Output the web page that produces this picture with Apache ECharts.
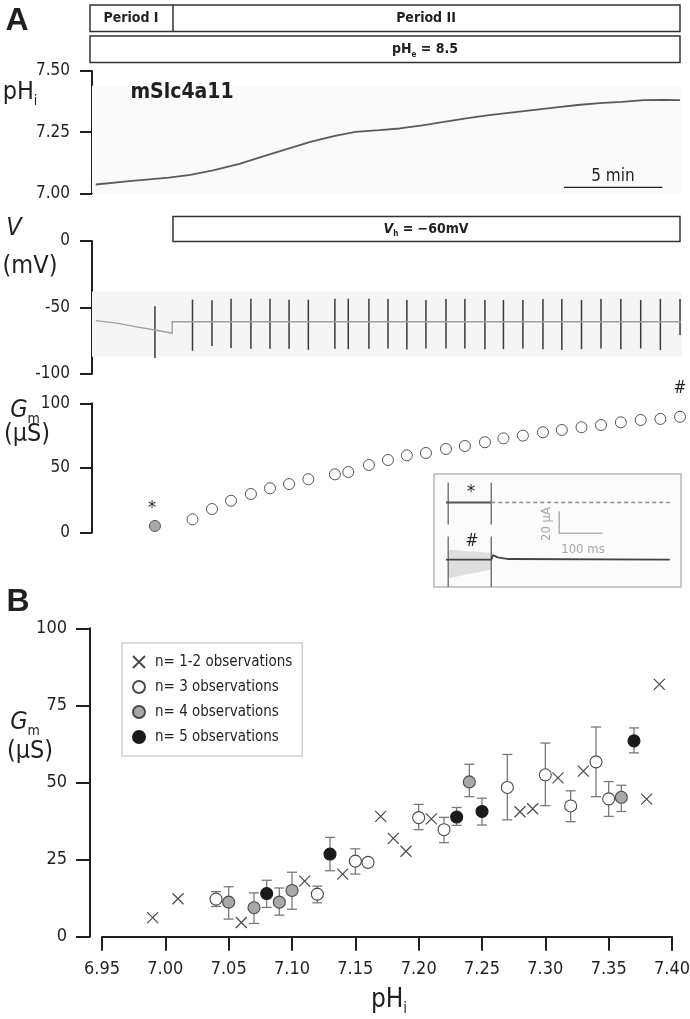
<!DOCTYPE html>
<html>
<head>
<meta charset="UTF-8">
<title>mSlc4a11 Gm vs pHi</title>
<script src="https://cdn.jsdelivr.net/npm/echarts@6/dist/echarts.min.js"></script>
<style>html,body{margin:0;padding:0;background:#fff;} #main{width:690px;height:1019px;}</style>
</head>
<body>
<div id="main"></div>
<script type="text/javascript">
// ---- panel A : pHi trace (time in min) ----
var phT = [0.19, 1.9, 3.9, 5.0, 6.15, 7.5, 8.9, 10.07, 11.1, 12.35, 13.4, 14.6, 15.65, 16.8, 17.9, 19.1, 20.2, 21.3, 22.4, 23.6, 24.7, 25.8, 26.95, 28.06, 29.1, 29.9];
var phV = [7.036, 7.05, 7.064, 7.075, 7.094, 7.12, 7.156, 7.185, 7.21, 7.235, 7.251, 7.258, 7.265, 7.278, 7.292, 7.307, 7.32, 7.33, 7.34, 7.351, 7.361, 7.369, 7.374, 7.381, 7.382, 7.381];

// membrane potential: free running, then clamped at -60 mV
var vT = [0.19, 1.34, 2.19, 3.2, 4.08, 4.08, 29.95];
var vV = [-59.9, -61.9, -64.4, -66.9, -69.4, -60.7, -60.7];

// times of the voltage-step protocols and the spike extents
var stepT = [3.2, 5.11, 6.10, 7.07, 8.08, 9.05, 10.02, 11.0, 12.35, 13.03, 14.08, 15.05, 16.01, 16.98, 18.0, 18.96, 19.98, 20.92, 21.91, 22.93, 23.89, 24.89, 25.88, 26.89, 27.9, 28.9, 29.9];
var stepTop = [-49, -44.1, -44.6, -43.4, -43.4, -43.4, -44.1, -44.1, -43.4, -43.4, -43.4, -43.6, -44.3, -44.3, -43.6, -43.6, -44.3, -44.3, -44.3, -43.6, -43.6, -44.3, -43.6, -43.6, -44.3, -43.6, -43.6];
var stepBot = [-88, -82.5, -79, -80.5, -81, -81, -81, -81.8, -81, -81.3, -81, -80.8, -81.5, -80.8, -80.8, -80.8, -81.3, -81.3, -80.8, -81.3, -82, -81.3, -80.8, -81.3, -80.8, -82, -70.7];
// Gm (uS) at each step, first one unclamped (grey)
var gmA = [5.2, 10.3, 18.3, 24.7, 29.9, 34.3, 37.6, 41.3, 45.1, 46.9, 52.3, 56.2, 59.8, 61.6, 64.7, 67.0, 69.9, 72.9, 75.0, 77.6, 79.4, 81.5, 83.2, 85.3, 87.1, 87.9, 89.6];

// inset current traces (ms, uA)
var topT = [-5, 100], topI = [24, 24];
var dashT = [100, 515], dashI = [24, 24];
var botT = [-5, 0, 100, 104, 115, 140, 515];
var botI = [-28, -28, -28, -24, -26, -27.5, -28];
var bandT = [0, 100], bandHi = [-19, -22], bandLo = [-45, -37];
var trT = [0, 100, 0, 100], trHi = [42, 42, -7, -7], trLo = [4, 4, -53, -53];
var sbT = [258, 258, 358], sbI = [16, -4, -4];

// ---- panel B : Gm vs pHi ----
var x12 = [6.99, 7.01, 7.06, 7.11, 7.14, 7.17, 7.18, 7.19, 7.21, 7.28, 7.29, 7.31, 7.33, 7.38, 7.39];
var y12 = [6.2, 12.3, 4.6, 18.0, 20.3, 39.0, 31.9, 27.7, 38.2, 40.5, 41.5, 51.5, 53.7, 44.6, 81.8];

var x3 = [7.04, 7.12, 7.15, 7.16, 7.20, 7.22, 7.27, 7.30, 7.32, 7.34, 7.35];
var y3 = [12.2, 13.8, 24.5, 24.1, 38.6, 34.7, 48.4, 52.5, 42.4, 56.7, 44.7];
var lo3 = [9.8, 11.0, 20.3, 24.1, 34.7, 30.5, 37.9, 42.5, 37.3, 45.4, 39.0];
var hi3 = [14.6, 16.4, 28.5, 24.1, 42.9, 38.7, 59.1, 62.8, 47.3, 68.0, 50.3];

var x4 = [7.05, 7.07, 7.09, 7.10, 7.24, 7.36];
var y4 = [11.2, 9.4, 11.2, 15.0, 50.2, 45.2];
var lo4 = [5.7, 4.3, 7.0, 8.9, 45.4, 40.6];
var hi4 = [16.2, 14.2, 15.8, 20.9, 55.9, 49.1];

var x5 = [7.08, 7.13, 7.23, 7.25, 7.37];
var y5 = [14.0, 26.8, 38.8, 40.6, 63.5];
var lo5 = [9.5, 21.4, 36.1, 36.2, 59.6];
var hi5 = [18.3, 32.2, 41.9, 44.9, 67.7];

var FONT = "'Liberation Sans Narrow','Arial Narrow','DejaVu Sans Condensed',sans-serif";
var INK = '#231f20';

function zip(a, b) {
    var out = [];
    for (var i = 0; i < a.length; i++) out.push([a[i], b[i]]);
    return out;
}
function zip3(a, b, c) {
    var out = [];
    for (var i = 0; i < a.length; i++) out.push([a[i], b[i], c[i]]);
    return out;
}

// vertical segment from value(1) to value(2)
function segItem(color, width) {
    return function (params, api) {
        var a = api.coord([api.value(0), api.value(1)]);
        var b = api.coord([api.value(0), api.value(2)]);
        return {type: 'line', shape: {x1: a[0], y1: a[1], x2: b[0], y2: b[1]},
            style: {stroke: color, lineWidth: width}};
    };
}
function errItem(params, api) {
    var x = api.value(0);
    var lo = api.coord([x, api.value(1)]);
    var hi = api.coord([x, api.value(2)]);
    var w = 5, st = {stroke: '#7a7a7a', lineWidth: 1.3};
    return {type: 'group', children: [
        {type: 'line', shape: {x1: lo[0], y1: lo[1], x2: hi[0], y2: hi[1]}, style: st},
        {type: 'line', shape: {x1: hi[0] - w, y1: hi[1], x2: hi[0] + w, y2: hi[1]}, style: st},
        {type: 'line', shape: {x1: lo[0] - w, y1: lo[1], x2: lo[0] + w, y2: lo[1]}, style: st}
    ]};
}
function errSeries(x, lo, hi) {
    return {type: 'custom', xAxisIndex: 4, yAxisIndex: 4, z: 2, renderItem: errItem,
        encode: {x: 0, y: [1, 2]}, data: zip3(x, lo, hi), silent: true};
}

function txt(x, y, text, size, extra) {
    var st = {text: text, x: x, y: y, fontSize: size, fontFamily: FONT, fill: INK,
        align: 'center', verticalAlign: 'middle'};
    for (var k in (extra || {})) st[k] = extra[k];
    return {type: 'text', z: 100, style: st};
}
// text with a subscript: main, sub, rest
function subTxt(x, y, main, sub, rest, size, italic, bold) {
    var w = bold ? 'bold' : 'normal';
    var rich = {
        m: {fontSize: size, fontFamily: FONT, fontStyle: italic ? 'italic' : 'normal', fontWeight: w, fill: INK, lineHeight: size * 1.3},
        s: {fontSize: Math.round(size * 0.58), fontFamily: FONT, fontWeight: w, fill: INK, verticalAlign: 'bottom', lineHeight: size * 0.55},
        r: {fontSize: size, fontFamily: FONT, fontWeight: w, fill: INK, lineHeight: size * 1.3}
    };
    var t = '{m|' + main + '}{s|' + sub + '}' + (rest ? '{r|' + rest + '}' : '');
    return {type: 'text', z: 100, style: {text: t, rich: rich, x: x, y: y, align: 'center', verticalAlign: 'middle'}};
}
function box(x, y, w, h) {
    return {type: 'rect', z: 90, shape: {x: x, y: y, width: w, height: h},
        style: {fill: 'none', stroke: '#333', lineWidth: 1.5}};
}

var axisLine = {show: true, lineStyle: {color: INK, width: 2}};
var axisTick = {show: true, length: 12, lineStyle: {color: INK, width: 2}};
function yAx(grid, min, max, step, fmt, extra) {
    var a = {type: 'value', gridIndex: grid, min: min, max: max, interval: step,
        axisLine: axisLine, axisTick: axisTick,
        axisLabel: {fontSize: 17, fontFamily: FONT, color: INK, margin: 22, formatter: fmt},
        splitLine: {show: false}};
    for (var k in (extra || {})) a[k] = extra[k];
    return a;
}
function hidX(grid, min, max) {
    return {type: 'value', gridIndex: grid, min: min, max: max, show: false};
}

var chart = echarts.init(document.getElementById('main'));
var option = {
    backgroundColor: '#fff',
    animation: false,
    grid: [
        {left: 92, width: 590, top: 71, height: 122.3, outerBoundsMode: 'none'},
        {left: 92, width: 590, top: 241, height: 133, outerBoundsMode: 'none'},
        {left: 92, width: 590, top: 403.3, height: 129.4, outerBoundsMode: 'none'},
        {left: 434, top: 474, width: 247, height: 113, show: true, borderColor: '#b8b8b8', borderWidth: 1.5,
            backgroundColor: '#fbfbfb', z: 5, outerBoundsMode: 'none'},
        {left: 102, right: 18, top: 628.3, height: 308.4, outerBoundsMode: 'none'}
    ],
    xAxis: [
        hidX(0, 0, 30), hidX(1, 0, 30), hidX(2, 0, 30), hidX(3, -33, 541),
        {type: 'value', gridIndex: 4, min: 6.95, max: 7.40, interval: 0.05,
            axisLine: axisLine,
            axisTick: {show: true, length: 14, lineStyle: {color: INK, width: 2}},
            axisLabel: {fontSize: 18, fontFamily: FONT, color: INK, margin: 24,
                formatter: function (v) { return v.toFixed(2); }},
            splitLine: {show: false}}
    ],
    yAxis: [
        yAx(0, 7.0, 7.5, 0.25, function (v) { return v.toFixed(2); }),
        yAx(1, -100, 0, 50),
        yAx(2, 0, 100, 50),
        {type: 'value', gridIndex: 3, min: -53, max: 50, show: false},
        yAx(4, 0, 100, 25, null, {offset: 12,
            axisTick: {show: true, length: 14, lineStyle: {color: INK, width: 2}},
            axisLabel: {fontSize: 18, fontFamily: FONT, color: INK, margin: 23}})
    ],
    legend: {
        orient: 'vertical', left: 122, top: 643,
        padding: [11, 10, 11, 10], itemGap: 9, itemWidth: 22, itemHeight: 12,
        borderColor: '#cfcfcf', borderWidth: 1.5,
        textStyle: {fontSize: 15, fontFamily: FONT, color: INK, lineHeight: 16},
        data: ['n= 1-2 observations', 'n= 3 observations', 'n= 4 observations', 'n= 5 observations']
    },
    series: [
        // pHi trace
        {type: 'line', xAxisIndex: 0, yAxisIndex: 0, data: zip(phT, phV), showSymbol: false,
            lineStyle: {color: '#5a5a5a', width: 1.8}, silent: true,
            markArea: {silent: true, itemStyle: {color: '#fafafa'},
                data: [[{coord: [0, 7.44]}, {coord: [30, 7.0]}]]}},
        // 5 min scale bar
        {type: 'line', xAxisIndex: 0, yAxisIndex: 0, data: [[24.0, 7.024], [29.0, 7.024]], showSymbol: false,
            lineStyle: {color: INK, width: 1.3}, silent: true},
        // membrane potential
        {type: 'line', xAxisIndex: 1, yAxisIndex: 1, data: zip(vT, vV), showSymbol: false,
            lineStyle: {color: '#a0a0a0', width: 1.4}, silent: true,
            markArea: {silent: true, itemStyle: {color: '#f5f5f5'},
                data: [[{coord: [0, -38]}, {coord: [30, -87]}]]}},
        {type: 'custom', xAxisIndex: 1, yAxisIndex: 1, renderItem: segItem('#3a3a3a', 1.5),
            encode: {x: 0, y: [1, 2]}, data: zip3(stepT, stepTop, stepBot), silent: true},
        // Gm during the run
        {type: 'scatter', xAxisIndex: 2, yAxisIndex: 2, data: zip(stepT.slice(0, 1), gmA.slice(0, 1)),
            symbol: 'circle', symbolSize: 11, silent: true,
            itemStyle: {color: '#a9a9a9', borderColor: '#555', borderWidth: 1, opacity: 1}},
        {type: 'scatter', xAxisIndex: 2, yAxisIndex: 2, data: zip(stepT.slice(1), gmA.slice(1)),
            symbol: 'circle', symbolSize: 11, silent: true,
            itemStyle: {color: '#fff', borderColor: '#555', borderWidth: 1, opacity: 1}},
        // inset traces
        {type: 'custom', xAxisIndex: 3, yAxisIndex: 3, z: 6, silent: true, data: [[0, 0]],
            renderItem: function (params, api) {
                var pts = [], i;
                for (i = 0; i < bandT.length; i++) pts.push(api.coord([bandT[i], bandHi[i]]));
                for (i = bandT.length - 1; i >= 0; i--) pts.push(api.coord([bandT[i], bandLo[i]]));
                return {type: 'polygon', shape: {points: pts}, style: {fill: '#dedede'}};
            }},
        {type: 'line', xAxisIndex: 3, yAxisIndex: 3, z: 7, data: zip(topT, topI), showSymbol: false,
            lineStyle: {color: '#555', width: 1.8}, silent: true},
        {type: 'line', xAxisIndex: 3, yAxisIndex: 3, z: 7, data: zip(dashT, dashI), showSymbol: false,
            lineStyle: {color: '#8a8a8a', width: 1.3, type: [4, 3]}, silent: true},
        {type: 'line', xAxisIndex: 3, yAxisIndex: 3, z: 7, data: zip(botT, botI), showSymbol: false,
            lineStyle: {color: '#444', width: 1.8}, silent: true},
        {type: 'custom', xAxisIndex: 3, yAxisIndex: 3, z: 7, renderItem: segItem('#666', 1.3),
            encode: {x: 0, y: [1, 2]}, data: zip3(trT, trHi, trLo), silent: true},
        {type: 'line', xAxisIndex: 3, yAxisIndex: 3, z: 7, data: zip(sbT, sbI), showSymbol: false,
            lineStyle: {color: '#b5b5b5', width: 1.6}, silent: true},
        // panel B error bars
        errSeries(x3, lo3, hi3),
        errSeries(x4, lo4, hi4),
        errSeries(x5, lo5, hi5),
        // panel B points
        {name: 'n= 1-2 observations', type: 'scatter', xAxisIndex: 4, yAxisIndex: 4, z: 3,
            data: zip(x12, y12), symbol: 'path://M0,0L10,10M10,0L0,10', symbolSize: 11,
            itemStyle: {color: 'rgba(0,0,0,0)', borderColor: '#4a4a4a', borderWidth: 1.2, opacity: 1}},
        {name: 'n= 3 observations', type: 'scatter', xAxisIndex: 4, yAxisIndex: 4, z: 3,
            data: zip(x3, y3), symbol: 'circle', symbolSize: 12,
            itemStyle: {color: '#fff', borderColor: '#4a4a4a', borderWidth: 1.1, opacity: 1}},
        {name: 'n= 4 observations', type: 'scatter', xAxisIndex: 4, yAxisIndex: 4, z: 3,
            data: zip(x4, y4), symbol: 'circle', symbolSize: 12,
            itemStyle: {color: '#a8a8a8', borderColor: '#4a4a4a', borderWidth: 1.1, opacity: 1}},
        {name: 'n= 5 observations', type: 'scatter', xAxisIndex: 4, yAxisIndex: 4, z: 3,
            data: zip(x5, y5), symbol: 'circle', symbolSize: 12,
            itemStyle: {color: '#1a1a1a', borderColor: '#1a1a1a', borderWidth: 1.1, opacity: 1}}
    ],
    graphic: [
        txt(17, 21, 'A', 32, {fontWeight: 'bold', fontFamily: "'Liberation Sans','DejaVu Sans',sans-serif"}),
        txt(18, 602, 'B', 32, {fontWeight: 'bold', fontFamily: "'Liberation Sans','DejaVu Sans',sans-serif"}),
        // protocol bars
        box(90, 5, 590, 26.5),
        {type: 'line', z: 90, shape: {x1: 173, y1: 5, x2: 173, y2: 31.5}, style: {stroke: '#333', lineWidth: 1.5}},
        txt(131, 18.5, 'Period I', 14, {fontWeight: 'bold'}),
        txt(426, 18.5, 'Period II', 14, {fontWeight: 'bold'}),
        box(90, 36, 590, 26.5),
        subTxt(425, 49.5, 'pH', 'e', ' = 8.5', 14, false, true),
        box(173, 216.5, 507, 25),
        {type: 'text', z: 100, style: {
            text: '{v|V}{s|h}{r| = \u221260mV}', x: 426, y: 229, align: 'center', verticalAlign: 'middle',
            rich: {
                v: {fontSize: 14, fontFamily: FONT, fontStyle: 'italic', fontWeight: 'bold', fill: INK, lineHeight: 18},
                s: {fontSize: 8, fontFamily: FONT, fontWeight: 'bold', fill: INK, verticalAlign: 'bottom', lineHeight: 8},
                r: {fontSize: 14, fontFamily: FONT, fontWeight: 'bold', fill: INK, lineHeight: 18}
            }}},
        txt(182, 93, 'mSlc4a11', 21, {fontWeight: 'bold'}),
        txt(613, 177, '5 min', 17),
        // axis titles
        subTxt(20, 92, 'pH', 'i', '', 25, false, false),
        txt(14, 228, 'V', 25, {fontStyle: 'italic'}),
        txt(30, 266, '(mV)', 25),
        subTxt(25, 410, 'G', 'm', '', 25, true, false),
        txt(27, 434, '(\u03bcS)', 25),
        subTxt(25, 722, 'G', 'm', '', 25, true, false),
        txt(30, 751, '(\u03bcS)', 25),
        subTxt(389, 1000, 'pH', 'i', '', 26, false, false),
        // markers on the Gm run
        txt(152, 508, '*', 18),
        txt(680, 389, '#', 17),
        // inset labels
        txt(471, 492, '*', 18),
        txt(472, 542, '#', 17),
        {type: 'text', z: 100, x: 547, y: 524, rotation: Math.PI / 2,
            style: {text: '20 \u03bcA', x: 0, y: 0, fontSize: 13, fontFamily: FONT, fill: '#a8a8a8',
                align: 'center', verticalAlign: 'middle'}},
        txt(583, 550, '100 ms', 13, {fill: '#a8a8a8'})
    ]
};
chart.setOption(option);
</script>
</body>
</html>
